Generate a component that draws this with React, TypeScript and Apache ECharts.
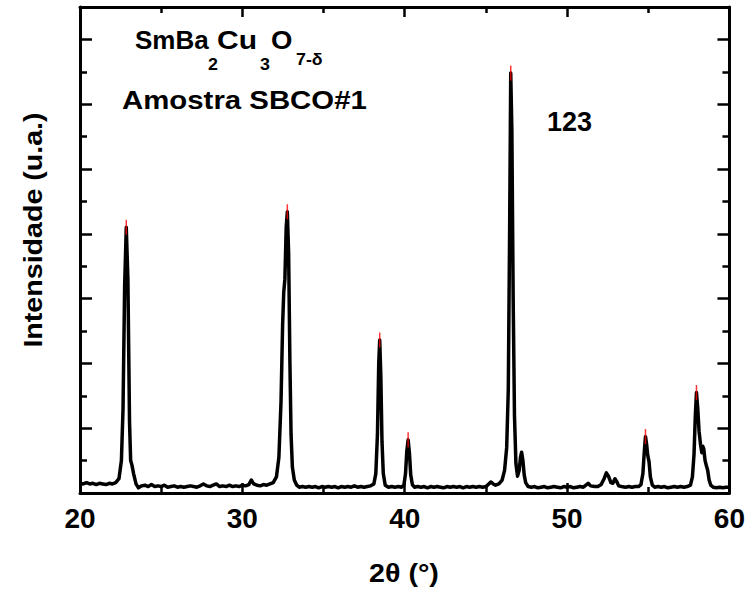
import React, { useEffect, useRef } from "react";
import * as echarts from "echarts";

// ---- data ----
const xMin = 20;
const xMax = 60;
const xStep = 10;
const yMin = 0;
const yMax = 7.5;
const yStep = 1;

// [2θ (deg), intensity (a.u.)]
const scan: [number, number][] = [
  [20.0, 0.15], [20.2, 0.14], [20.4, 0.16], [20.6, 0.14], [20.8, 0.15], [21.0, 0.13],
  [21.2, 0.15], [21.4, 0.14], [21.6, 0.13], [21.8, 0.15], [22.0, 0.14], [22.2, 0.16],
  [22.4, 0.22], [22.55, 0.5], [22.65, 1.3], [22.75, 3.2], [22.85, 4.1], [22.95, 3.3],
  [23.05, 1.1], [23.12, 0.5], [23.2, 0.43], [23.3, 0.3], [23.45, 0.14], [23.6, 0.08],
  [23.8, 0.11], [24.0, 0.12], [24.2, 0.1], [24.4, 0.13], [24.6, 0.1], [24.8, 0.11],
  [25.0, 0.1], [25.2, 0.12], [25.4, 0.09], [25.6, 0.1], [25.8, 0.11], [26.0, 0.09],
  [26.2, 0.1], [26.4, 0.09], [26.6, 0.1], [26.8, 0.11], [27.0, 0.1], [27.2, 0.09],
  [27.4, 0.11], [27.6, 0.14], [27.8, 0.11], [28.0, 0.1], [28.2, 0.12], [28.4, 0.14],
  [28.6, 0.1], [28.8, 0.11], [29.0, 0.1], [29.2, 0.12], [29.4, 0.1], [29.6, 0.11],
  [29.8, 0.1], [30.0, 0.12], [30.2, 0.11], [30.4, 0.13], [30.55, 0.2], [30.7, 0.14],
  [30.9, 0.12], [31.1, 0.11], [31.3, 0.13], [31.5, 0.12], [31.7, 0.14], [31.9, 0.16],
  [32.1, 0.25], [32.25, 0.55], [32.38, 1.4], [32.48, 2.6], [32.55, 3.1], [32.62, 3.3],
  [32.7, 4.1], [32.77, 4.34], [32.85, 3.7], [32.93, 2.0], [33.0, 0.9], [33.08, 0.4],
  [33.2, 0.2], [33.35, 0.12], [33.5, 0.09], [33.7, 0.1], [33.9, 0.09], [34.1, 0.1],
  [34.3, 0.09], [34.5, 0.1], [34.7, 0.08], [34.9, 0.1], [35.1, 0.09], [35.3, 0.1],
  [35.5, 0.09], [35.7, 0.1], [35.9, 0.08], [36.1, 0.1], [36.3, 0.09], [36.5, 0.1],
  [36.7, 0.09], [36.9, 0.11], [37.1, 0.09], [37.3, 0.1], [37.5, 0.09], [37.7, 0.1],
  [37.9, 0.11], [38.1, 0.14], [38.22, 0.3], [38.32, 0.9], [38.4, 2.0], [38.46, 2.36],
  [38.53, 1.8], [38.6, 0.8], [38.68, 0.3], [38.8, 0.12], [39.0, 0.09], [39.2, 0.1],
  [39.4, 0.09], [39.6, 0.1], [39.8, 0.09], [39.95, 0.12], [40.05, 0.3], [40.13, 0.65],
  [40.21, 0.82], [40.29, 0.62], [40.37, 0.28], [40.47, 0.13], [40.6, 0.09], [40.8, 0.1],
  [41.0, 0.09], [41.2, 0.1], [41.4, 0.08], [41.6, 0.1], [41.8, 0.09], [42.0, 0.1],
  [42.2, 0.09], [42.4, 0.08], [42.6, 0.1], [42.8, 0.09], [43.0, 0.1], [43.2, 0.09],
  [43.4, 0.1], [43.6, 0.08], [43.8, 0.1], [44.0, 0.09], [44.2, 0.1], [44.4, 0.09],
  [44.6, 0.1], [44.8, 0.09], [45.0, 0.1], [45.1, 0.12], [45.3, 0.17], [45.45, 0.14],
  [45.6, 0.12], [45.8, 0.14], [46.0, 0.2], [46.15, 0.35], [46.28, 0.7], [46.38, 1.6],
  [46.46, 4.0], [46.53, 6.48], [46.6, 5.6], [46.68, 3.0], [46.76, 1.2], [46.85, 0.45],
  [46.95, 0.26], [47.05, 0.35], [47.13, 0.55], [47.2, 0.63], [47.28, 0.5], [47.36, 0.28],
  [47.45, 0.16], [47.6, 0.1], [47.8, 0.09], [48.0, 0.1], [48.2, 0.08], [48.4, 0.09],
  [48.6, 0.1], [48.8, 0.08], [49.0, 0.09], [49.2, 0.1], [49.4, 0.09], [49.6, 0.08],
  [49.8, 0.1], [50.0, 0.09], [50.2, 0.1], [50.4, 0.08], [50.6, 0.09], [50.8, 0.1],
  [51.0, 0.09], [51.1, 0.11], [51.3, 0.15], [51.45, 0.11], [51.7, 0.1], [51.9, 0.1],
  [52.1, 0.13], [52.28, 0.22], [52.42, 0.31], [52.55, 0.26], [52.7, 0.16], [52.82, 0.15],
  [52.95, 0.22], [53.05, 0.18], [53.18, 0.11], [53.35, 0.1], [53.6, 0.09], [53.8, 0.1],
  [54.0, 0.09], [54.2, 0.1], [54.4, 0.1], [54.55, 0.13], [54.67, 0.3], [54.76, 0.65],
  [54.83, 0.87], [54.9, 0.75], [54.97, 0.58], [55.05, 0.48], [55.13, 0.25], [55.25, 0.12],
  [55.4, 0.09], [55.6, 0.1], [55.8, 0.09], [56.0, 0.1], [56.2, 0.08], [56.4, 0.09],
  [56.6, 0.1], [56.8, 0.09], [57.0, 0.1], [57.2, 0.09], [57.4, 0.1], [57.6, 0.12],
  [57.72, 0.25], [57.82, 0.6], [57.9, 1.2], [57.97, 1.55], [58.05, 1.3], [58.13, 0.95],
  [58.22, 0.75], [58.3, 0.62], [58.36, 0.72], [58.42, 0.68], [58.5, 0.5], [58.58, 0.42],
  [58.66, 0.35], [58.75, 0.2], [58.85, 0.12], [59.0, 0.09], [59.2, 0.08], [59.4, 0.09],
  [59.6, 0.08], [59.8, 0.09], [60.0, 0.09],
];

// red peak markers
const peakPositions = [22.85, 32.77, 38.46, 40.21, 46.53, 54.83, 57.97];
const peakHeights = [4.1, 4.34, 2.36, 0.82, 6.48, 0.87, 1.55];

const FONT = "'Liberation Sans', Arial, Helvetica, sans-serif";

function txt(text: string, x: number, y: number, size: number, scaleX: number, align = "left", rotation = 0) {
  return {
    type: "text",
    x,
    y,
    scaleX,
    rotation,
    z: 100,
    silent: true,
    style: {
      text,
      fontSize: size,
      fontWeight: "bold",
      fontFamily: FONT,
      fill: "#000",
      align,
      verticalAlign: "middle",
      textAlign: align,
      textVerticalAlign: "middle",
    },
  };
}

export default function App() {
  const ref = useRef<HTMLDivElement>(null);

  useEffect(() => {
    if (!ref.current) return;
    const chart = echarts.init(ref.current, undefined, { renderer: "svg" });

    const line = { color: "#000", width: 3 };
    const tick = { color: "#000", width: 2.5 };

    const xBase = {
      type: "value",
      min: xMin,
      max: xMax,
      interval: xStep,
      splitLine: { show: false },
      axisLine: { show: true, onZero: false, lineStyle: line },
      axisTick: { show: true, inside: true, length: 10, lineStyle: tick },
      minorTick: { show: true, splitNumber: 2, length: 6, lineStyle: tick },
    };
    const yBase = {
      type: "value",
      min: yMin,
      max: yMax,
      interval: yStep,
      splitLine: { show: false },
      axisLine: { show: true, onZero: false, lineStyle: line },
      axisTick: { show: true, inside: true, length: 12, lineStyle: tick },
      minorTick: { show: true, splitNumber: 2, length: 7, lineStyle: tick },
      axisLabel: { show: false },
    };

    const option: any = {
      animation: false,
      backgroundColor: "#fff",
      grid: { left: 80, right: 17, top: 7, bottom: 100 },
      xAxis: [
        {
          ...xBase,
          position: "bottom",
          axisLabel: {
            show: true,
            color: "#000",
            fontSize: 28,
            fontWeight: "bold",
            fontFamily: FONT,
            margin: 11,
          },
        },
        { ...xBase, position: "top", axisLabel: { show: false } },
      ],
      yAxis: [
        { ...yBase, position: "left" },
        { ...yBase, position: "right" },
      ],
      series: [
        {
          type: "line",
          xAxisIndex: 0,
          yAxisIndex: 0,
          data: scan,
          symbol: "none",
          silent: true,
          lineStyle: { color: "#000", width: 3.5, join: "round" },
          z: 2,
        },
        {
          type: "scatter",
          xAxisIndex: 0,
          yAxisIndex: 0,
          data: peakPositions.map((p, i) => [p, peakHeights[i]]),
          symbol: "rect",
          symbolSize: [1.5, 15],
          itemStyle: { color: "#ff0000" },
          silent: true,
          z: 3,
        },
      ],
      graphic: [
        // formula SmBa2Cu3O7-δ
        txt("SmBa", 135, 40.5, 25, 1.04),
        txt("2", 208, 64, 17, 1.05),
        txt("Cu", 217, 40.5, 25, 1.2),
        txt("3", 260, 64, 17, 1.05),
        txt("O", 271, 40.5, 25, 1.1),
        txt("7-δ", 296, 59, 17, 1.05),
        txt("Amostra SBCO#1", 122, 99.6, 26, 1.13),
        txt("123", 547, 122, 27, 1.0),
        txt("2θ (°)", 404, 572.6, 26, 1.1, "center"),
        txt("Intensidade (u.a.)", 32.6, 230, 26, 1.1, "center", Math.PI / 2),
      ],
    };

    chart.setOption(option);
    return () => chart.dispose();
  }, []);

  return (
    <div
      ref={ref}
      style={{ position: "fixed", left: 0, top: 0, width: 748, height: 593, background: "#fff" }}
    />
  );
}
